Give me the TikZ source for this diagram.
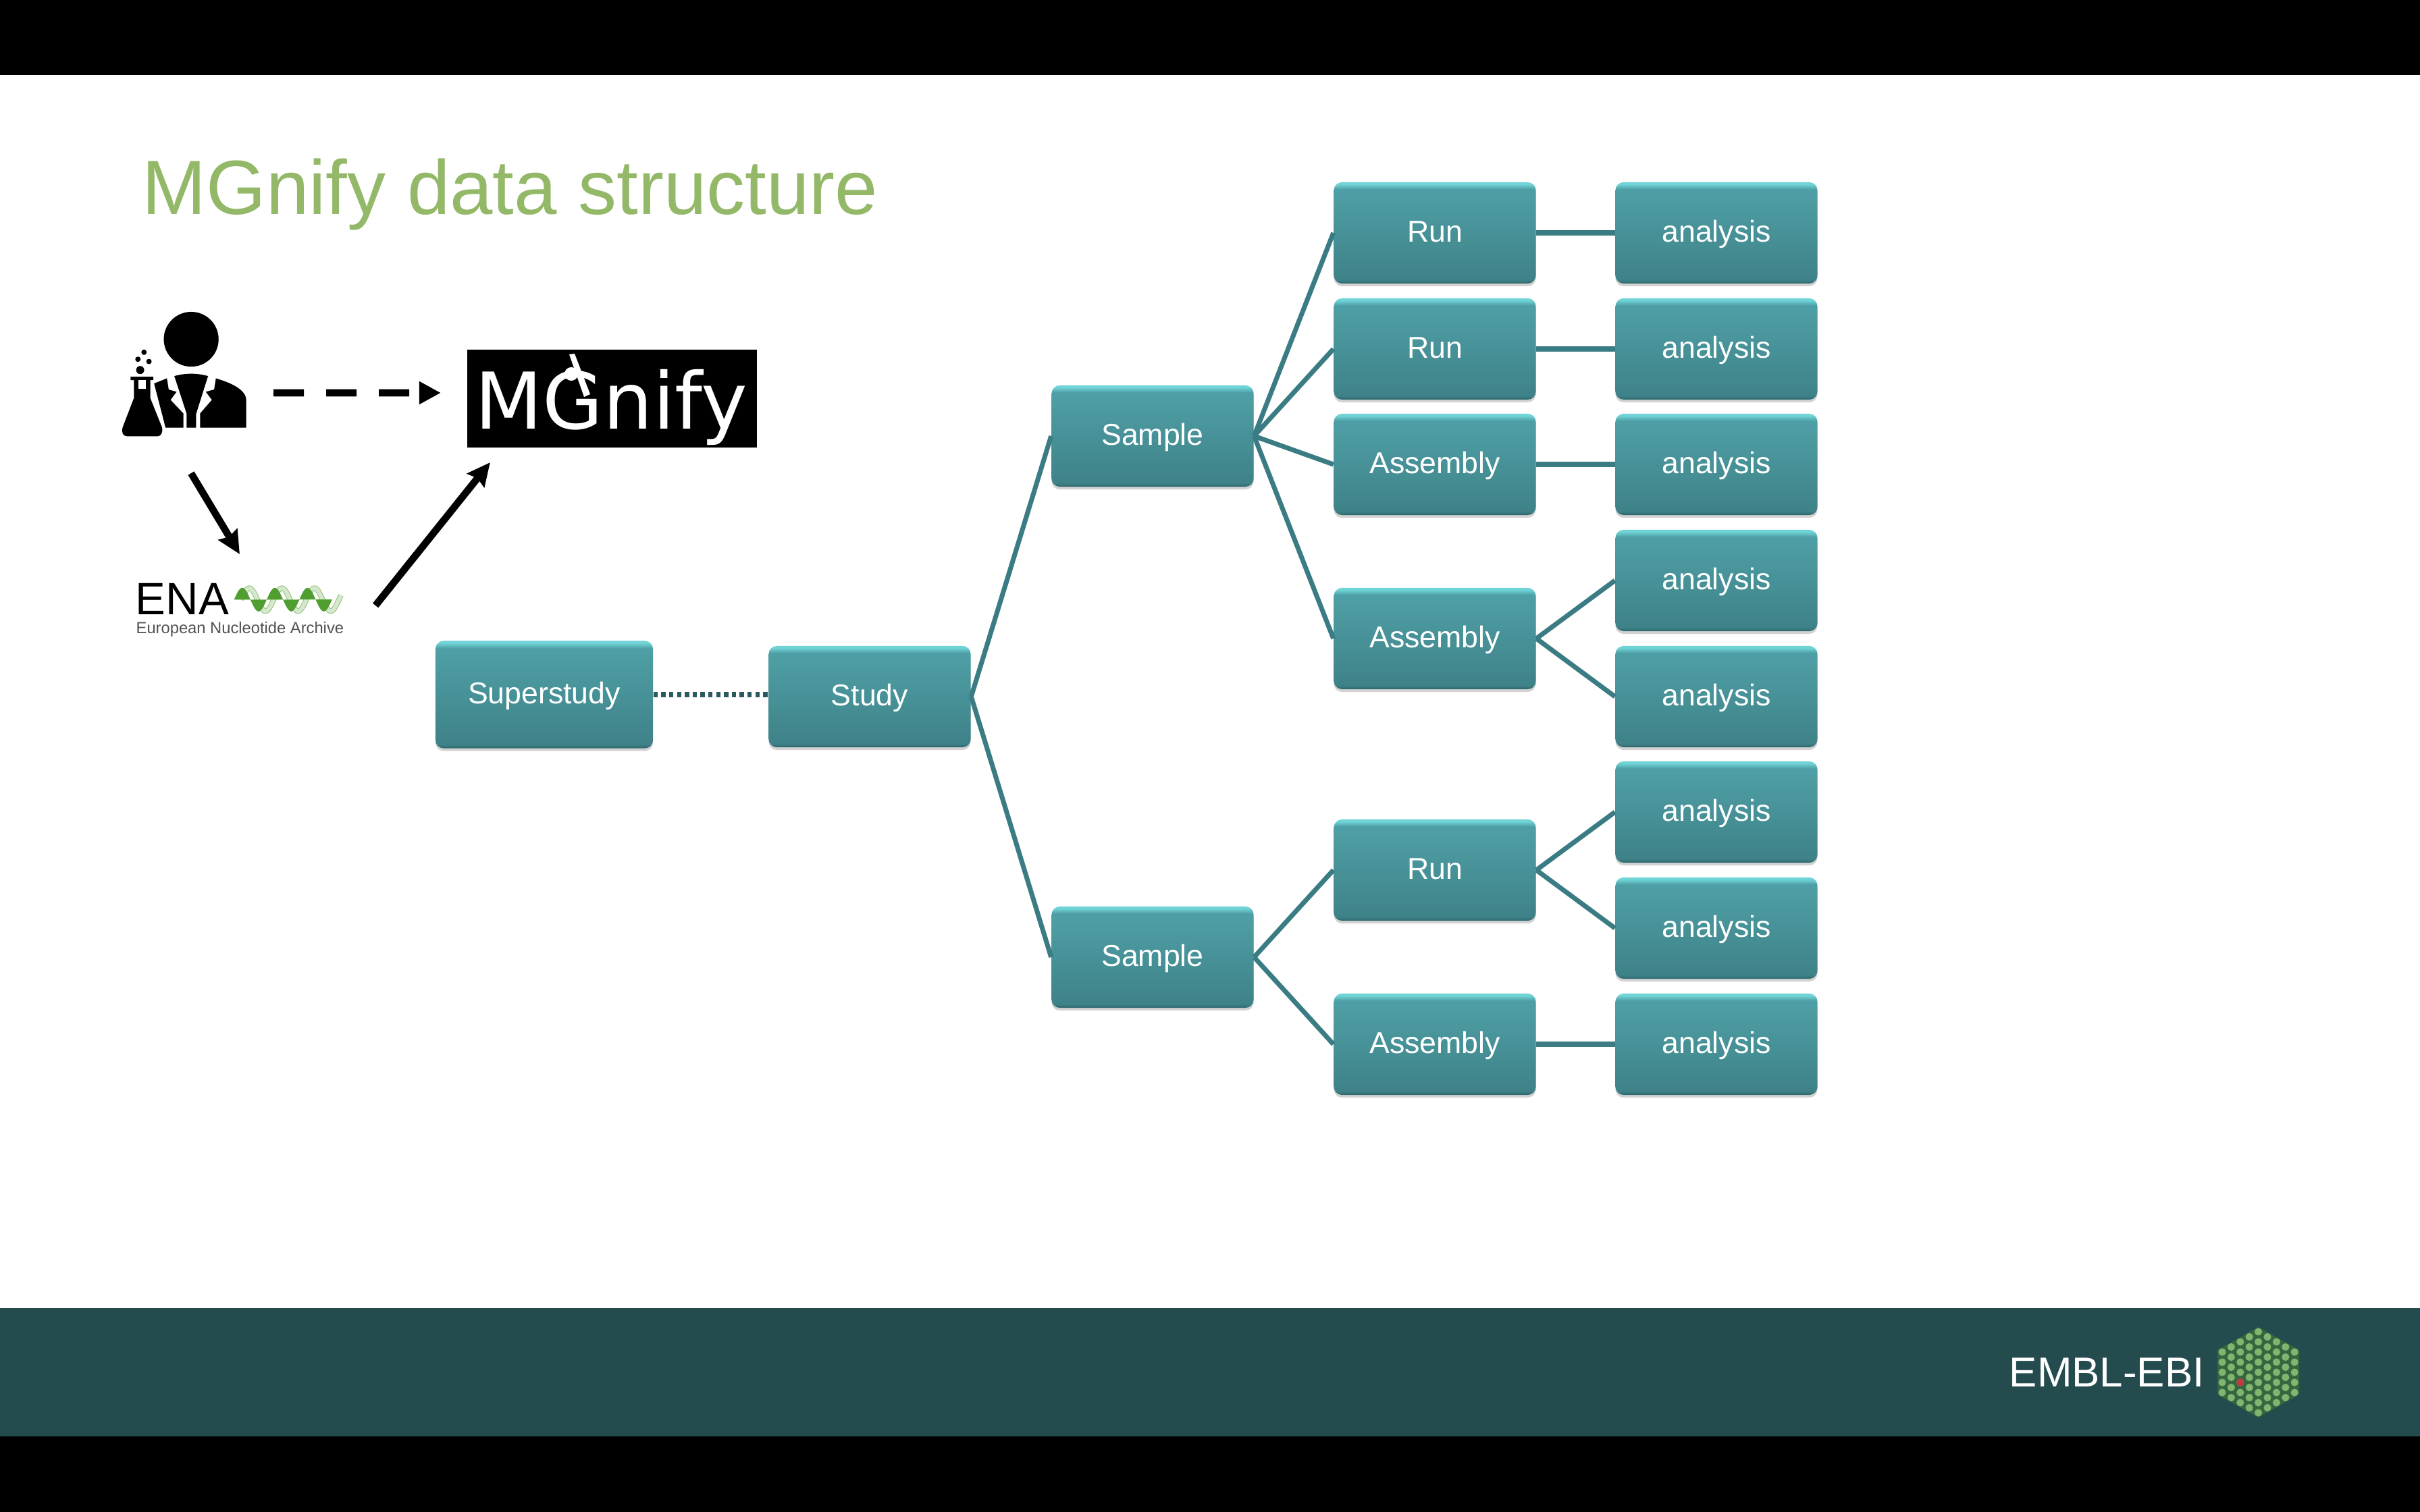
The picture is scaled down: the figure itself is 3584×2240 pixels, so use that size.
\documentclass[tikz,border=0pt]{standalone}
\usepackage{fontspec}
\setmainfont{Liberation Sans}
\newfontfamily\logoFont{DejaVu Sans}
\usetikzlibrary{arrows.meta,shadows}
\definecolor{tealEdge}{HTML}{2C666B}
\definecolor{tealLow}{HTML}{3E8288}
\definecolor{tealHigh}{HTML}{4E9FA5}
\definecolor{tealGlow}{HTML}{70D4D6}
\definecolor{tealLine}{HTML}{3B7C84}
\definecolor{tealDark}{HTML}{244B4E}
\definecolor{titleGreen}{HTML}{93B868}
\definecolor{dotGreen}{HTML}{7FB56E}
\definecolor{hexGreen}{HTML}{35663F}
\definecolor{dotRed}{HTML}{C2393F}
\definecolor{helixDark}{HTML}{4F9E2F}
\definecolor{helixLight}{HTML}{D5E8CC}
\pgfdeclareverticalshading{boxShade}{100bp}{%%
  color(0bp)=(tealEdge); color(25bp)=(tealEdge); color(26.8bp)=(tealLow);
  color(70bp)=(tealHigh); color(71.5bp)=(tealHigh); color(74bp)=(tealGlow);
  color(75bp)=(tealGlow); color(100bp)=(tealGlow)}
\newcommand{\flowBox}[4]{%%
  \node[boxStyle] (#1) at (#2,#3) {#4};
}
\newcommand{\scientistIcon}{%%
  \begin{scope}[shift={(170,450)},x=0.00333cm,y=-0.00333cm]
  %% The head and the jacket.
  \fill (340,158) circle [radius=122];
  \fill (175,355) -- (232,332) -- (240,382) -- (275,392) -- (248,428) -- (305,488)
    -- (305,552) -- (226,552) -- cycle;
  \fill (265,322) .. controls (315,308) and (365,308) .. (415,322) -- (362,490)
    -- (362,552) -- (320,552) -- (320,490) -- cycle;
  \fill (450,332) .. controls (510,350) and (585,380) .. (585,430) -- (585,552)
    -- (380,552) -- (380,488) -- (432,428) -- (405,392) -- (442,382) -- cycle;
  %% The flask and its bubbles.
  \fill (70,325) -- (172,325) -- (172,340) -- (158,340) -- (158,420) -- (210,550)
    .. controls (215,575) and (205,590) .. (190,590) -- (55,590)
    .. controls (38,590) and (28,575) .. (35,550) -- (85,420) -- (85,340) -- (70,340) -- cycle;
  \fill[white] (105,340) rectangle (138,378);
  \fill (113,295) circle [radius=18];
  \fill (103,247) circle [radius=12];
  \fill (152,257) circle [radius=12];
  \fill (130,216) circle [radius=12];
  \end{scope}
}
\newcommand{\microscopeIcon}{%%
  \fill[white] (843,525) -- (851,524) -- (874,584) -- (865,588) -- cycle;
  \fill[white] (846,554) circle [radius=10];
}
\newcommand{\helixLogo}{%%
  %% The pale strand lies under the dark one.
  \draw[helixDark!70,line width=2.2pt] plot[domain=357:505,samples=90,smooth]
    (\x,{888.3-17*sin((\x-357)*7.45)});
  \draw[helixLight,line width=1.7pt] plot[domain=357:505,samples=90,smooth]
    (\x,{888.3-17*sin((\x-357)*7.45)});
  \fill[helixDark] plot[domain=346.7:491.7,samples=90,smooth]
    (\x,{888.3-17.5*sin((\x-346.7)*7.45)}) -- cycle;
}
\newcommand{\hexLogo}{%%
  \fill[hexGreen] (3344.5,1966) -- (3405,2000) -- (3405,2066) -- (3344.5,2100)
    -- (3284,2066) -- (3284,2000) -- cycle;
  \foreach \col/\num in {0/5,1/6,2/7,3/8,4/9,5/8,6/7,7/6,8/5}{%%
    \pgfmathsetmacro{\last}{\num-1}
    \foreach \row in {0,...,\last}{%%
      \fill[dotGreen] ({3291+13.4*\col},{2033+15*(\row-\last/2)}) circle [radius=5.6];
    }
  }
  \fill[dotRed] ({3291+13.4*2},2048) circle [radius=5.6];
}

\begin{document}
\begin{tikzpicture}[%%
  x=0.01cm,y=-0.01cm,
  boxStyle/.style={shading=boxShade,rounded corners=0.12cm,text=white,
    minimum width=2.99cm,minimum height=1.5cm,inner sep=0pt,
    text height=0.36cm,text depth=0.10cm,
    font=\fontsize{12.7}{15}\selectfont,
    drop shadow={shadow xshift=0cm,shadow yshift=-0.04cm,opacity=0.35}},
  lineStyle/.style={-,tealLine,line width=2pt},
  dotStyle/.style={-,tealDark!70!tealLine,line width=2pt,dash pattern=on 1.8pt off 1.5pt},
  arrowStyle/.style={-{Stealth[length=0.34cm,width=0.32cm,inset=0.04cm]},line width=3pt},
  dashArrowStyle/.style={-{Triangle[length=0.32cm,width=0.32cm]},line width=3.1pt,
    dash pattern=on 12.8pt off 9.4pt},
  spacerStyle/.style={inner sep=0pt,outer sep=0pt}
]
\useasboundingbox (0,0) rectangle (3584,2240);
%%
%% The slide: black bars and the footer.
\fill[white] (0,0) rectangle (3584,2240);
\fill[black] (0,0) rectangle (3584,111);
\fill[tealDark] (0,1938) rectangle (3584,2128);
\fill[black] (0,2128) rectangle (3584,2240);
\node[anchor=west,inner sep=0pt,text=titleGreen,font=\fontsize{32.4}{38}\selectfont] (title)
  at (210,288) {MGnify data structure};
\node[anchor=west,inner sep=0pt,text=white,font=\fontsize{17.6}{20}\selectfont] (embl)
  at (2975,2033) {EMBL-EBI};
\hexLogo
%%
%% The submission route.
\scientistIcon
\node[spacerStyle,minimum width=2.44cm,minimum height=2.38cm] (scientist) at (283,582) {};
\node[fill=black,spacerStyle,minimum width=4.29cm,minimum height=1.45cm] (mgnify) at (906.5,590.5) {};
\node[anchor=base,inner sep=0pt,text=white,font=\logoFont\fontsize{33}{38}\selectfont]
  (mgnifyName) at (905,636) {MGnify};
\microscopeIcon
\node[spacerStyle,minimum width=4.02cm,minimum height=1.52cm] (ena) at (355,897) {};
\node[anchor=west,inner sep=0pt,font=\fontsize{19.1}{21}\selectfont] (enaName)
  at (200,887) {ENA};
\node[anchor=west,inner sep=0pt,text=black!68,font=\fontsize{6.75}{8}\selectfont] (enaCaption)
  at (201,932) {European Nucleotide Archive};
\helixLogo
\draw[dashArrowStyle] (scientist.east) -- ([xshift=-0.39cm,yshift=0.085cm]mgnify.west);
\draw[arrowStyle] (scientist.south) -- (ena.north);
\draw[arrowStyle] (ena.east) -- ([xshift=0.34cm,yshift=-0.22cm]mgnify.south west);
%%
%% The tree of boxes.
\node[boxStyle,minimum width=3.22cm,minimum height=1.59cm] (superstudy) at (806,1029) {Superstudy};
\flowBox{study}{1288}{1032}{Study}
\flowBox{sampleA}{1707}{646}{Sample}
\flowBox{sampleB}{1707}{1418}{Sample}
\flowBox{runA}{2125}{345}{Run}
\flowBox{runB}{2125}{517}{Run}
\flowBox{assemblyA}{2125}{688}{Assembly}
\flowBox{assemblyB}{2125}{946}{Assembly}
\flowBox{runC}{2125}{1289}{Run}
\flowBox{assemblyC}{2125}{1547}{Assembly}
\flowBox{analysisA}{2542}{345}{analysis}
\flowBox{analysisB}{2542}{517}{analysis}
\flowBox{analysisC}{2542}{688}{analysis}
\flowBox{analysisD}{2542}{860}{analysis}
\flowBox{analysisE}{2542}{1032}{analysis}
\flowBox{analysisF}{2542}{1203}{analysis}
\flowBox{analysisG}{2542}{1375}{analysis}
\flowBox{analysisH}{2542}{1547}{analysis}
\draw[dotStyle] (superstudy.east) -- (superstudy.east -| study.west);
\foreach \from/\to in {study/sampleA,study/sampleB,
  sampleA/runA,sampleA/runB,sampleA/assemblyA,sampleA/assemblyB,
  sampleB/runC,sampleB/assemblyC,
  runA/analysisA,runB/analysisB,assemblyA/analysisC,
  assemblyB/analysisD,assemblyB/analysisE,
  runC/analysisF,runC/analysisG,assemblyC/analysisH}{%%
  \draw[lineStyle] (\from.east) -- (\to.west);
}
\end{tikzpicture}
\end{document}
